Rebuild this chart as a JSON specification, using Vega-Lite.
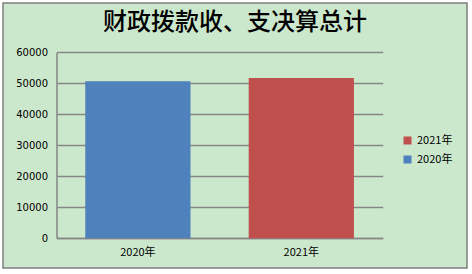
{
  "$schema": "https://vega.github.io/schema/vega-lite/v6.json",
  "width": 464,
  "height": 265,
  "autosize": {"type": "none"},
  "padding": {"left": 3, "top": 3, "right": 5, "bottom": 6},
  "background": "#ffffff",
  "title": {
    "text": "财政拨款收、支决算总计",
    "font": "Noto Sans CJK SC",
    "fontSize": 24,
    "fontWeight": 500,
    "color": "#000000",
    "anchor": "middle",
    "baseline": "middle",
    "offset": 0,
    "dy": 44
  },
  "data": {
    "values": [
      {"year": "2020年", "value": 50700},
      {"year": "2021年", "value": 51700}
    ]
  },
  "mark": {"type": "bar"},
  "encoding": {
    "x": {
      "field": "year",
      "type": "nominal",
      "sort": ["2020年", "2021年"],
      "scale": {"range": [53.5, 379.7], "paddingInner": 0.356, "paddingOuter": 0.176},
      "axis": {
        "title": null,
        "labelAngle": 0,
        "domainColor": "#868686",
        "domainWidth": 1.5,
        "ticks": false,
        "grid": false,
        "labelPadding": 8,
        "offset": -30,
        "labelFont": "Noto Sans CJK SC",
        "labelFontSize": 11,
        "labelColor": "#000000"
      }
    },
    "y": {
      "field": "value",
      "type": "quantitative",
      "scale": {"domain": [0, 60000], "range": [235.3, 49.3], "nice": false},
      "axis": {
        "title": null,
        "values": [0, 10000, 20000, 30000, 40000, 50000, 60000],
        "format": "d",
        "grid": true,
        "gridColor": "#868686",
        "gridWidth": 1.5,
        "domainColor": "#868686",
        "domainWidth": 1.5,
        "ticks": false,
        "labelPadding": 9,
        "offset": -53.5,
        "labelFont": "DejaVu Sans",
        "labelFontSize": 10,
        "labelColor": "#000000"
      }
    },
    "color": {
      "field": "year",
      "type": "nominal",
      "scale": {"domain": ["2021年", "2020年"], "range": ["#C0504D", "#4F81BD"]},
      "legend": {
        "title": null,
        "orient": "none",
        "legendX": 399,
        "legendY": 132,
        "symbolType": "square",
        "symbolSize": 64,
        "symbolStrokeWidth": 0,
        "labelFont": "Noto Sans CJK SC",
        "labelFontSize": 11,
        "labelColor": "#000000",
        "rowPadding": 7,
        "padding": 0
      }
    }
  },
  "config": {
    "view": {"fill": "#CCE8CC", "stroke": "#7F7F7F", "strokeWidth": 1.5}
  }
}
